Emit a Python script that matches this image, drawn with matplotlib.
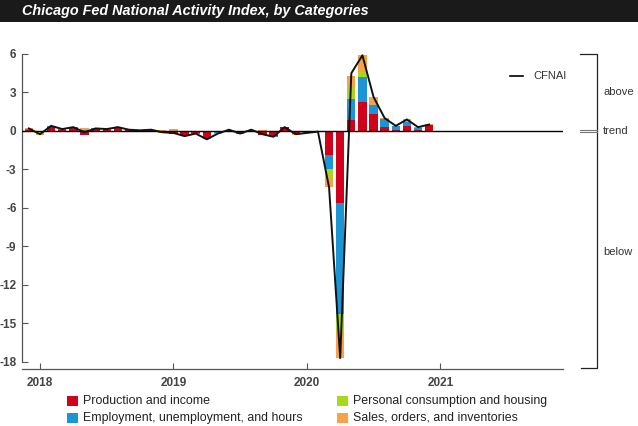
import numpy as np
import matplotlib
matplotlib.use("Agg")
import matplotlib.pyplot as plt
from matplotlib.patches import Rectangle

plt.rcParams['font.family'] = ['Liberation Sans', 'DejaVu Sans']
plt.rcParams['axes.unicode_minus'] = False

# Monthly data, Dec 2017 .. Dec 2020
start_year, start_month = 2017, 12
cfnai = [0.2, -0.25, 0.4, 0.15, 0.3, -0.1, 0.2, 0.15, 0.3, 0.1, 0.05, 0.1,
         -0.1, -0.15, -0.4, -0.2, -0.65, -0.2, 0.1, -0.2, 0.1, -0.25, -0.45, 0.3,
         -0.25, -0.15, -0.05, -4.4, -17.7, 4.5, 5.9, 2.65, 1.0, 0.4, 0.9, 0.3, 0.5]
production = [0.1, -0.05, 0.3, 0.1, 0.25, -0.35, 0.15, 0.1, 0.25, 0.05, 0.0, 0.05,
              -0.05, -0.25, -0.3, -0.15, -0.55, -0.1, 0.05, -0.15, 0.1, -0.3, -0.4, 0.3,
              -0.15, -0.1, 0.0, -1.9, -5.6, 0.85, 2.25, 1.3, 0.3, 0.05, 0.35, 0.05, 0.45]
employment = [0.05, -0.05, 0.1, 0.05, 0.05, 0.1, 0.05, 0.05, 0.05, 0.05, 0.05, 0.05,
              0.0, 0.0, -0.05, -0.05, -0.05, -0.05, 0.05, -0.05, 0.0, 0.0, -0.05, 0.0,
              -0.05, -0.05, 0.0, -1.1, -8.7, 1.65, 1.95, 0.7, 0.65, 0.3, 0.35, 0.2, 0.0]
consumption = [0.0, -0.05, 0.0, 0.0, 0.0, 0.05, 0.0, 0.0, 0.0, 0.0, 0.0, 0.0,
               -0.1, 0.0, -0.05, 0.0, 0.0, -0.05, 0.0, 0.0, 0.0, 0.0, 0.0, 0.0,
               -0.05, 0.0, -0.05, -0.7, -1.4, 0.9, 0.4, 0.05, 0.0, 0.05, 0.0, 0.0, 0.0]
sales = [0.05, -0.15, 0.0, 0.0, 0.0, 0.1, 0.0, 0.0, 0.0, 0.05, 0.0, 0.0,
         0.05, 0.15, 0.0, 0.0, -0.05, -0.05, 0.0, 0.0, 0.0, 0.05, 0.0, 0.0,
         -0.05, 0.0, 0.0, -0.7, -2.0, 0.85, 1.3, 0.6, 0.05, 0.0, 0.2, 0.05, 0.1]

labels = ['Production and income', 'Employment, unemployment, and hours',
          'Personal consumption and housing', 'Sales, orders, and inventories']
colors = ['#d0021b', '#1b95d6', '#a9d81a', '#f7a148']
year_ticks = [2018, 2019, 2020, 2021]
y_ticks = [6, 3, 0, -3, -6, -9, -12, -15, -18]

n = len(cfnai)
x = start_year + (start_month - 1) / 12 + np.arange(n) / 12

W, H = 638, 426
fig = plt.figure(figsize=(W / 100, H / 100), dpi=100)

# title band
fig.patches.append(Rectangle((0, 1 - 22 / H), 1, 22 / H, transform=fig.transFigure,
                             facecolor='#1a1a1a', edgecolor='none'))
fig.text(22 / W, 1 - 11 / H, 'Chicago Fed National Activity Index, by Categories',
         color='white', fontsize=10.4, fontweight='bold', fontstyle='italic',
         va='center', ha='left')

ax_l, ax_r = 22, 563
ax = fig.add_axes([ax_l / W, 1 - 369 / H, (ax_r - ax_l) / W, 315 / H])


def px(p):
    # pixel column -> axes fraction
    return (p - ax_l) / (ax_r - ax_l)


pos_bottom = np.zeros(n)
neg_bottom = np.zeros(n)
for vals, c in zip([production, employment, consumption, sales], colors):
    v = np.array(vals)
    bottom = np.where(v >= 0, pos_bottom, neg_bottom)
    ax.bar(x, v, width=0.75 / 12, bottom=bottom, color=c, edgecolor='none', zorder=2)
    pos_bottom = pos_bottom + np.where(v > 0, v, 0)
    neg_bottom = neg_bottom + np.where(v < 0, v, 0)

ax.axhline(0, color='black', lw=1.0, zorder=3)
ax.plot(x, cfnai, color='#111111', lw=1.4, zorder=4)

ax.set_xlim(2017.865, 2021.92)
ax.set_ylim(-18.55, 6)
ax.set_xticks(year_ticks)
ax.set_xticklabels([str(y) for y in year_ticks])
ax.set_yticks(y_ticks)
for s in ['top', 'right']:
    ax.spines[s].set_visible(False)
for s in ['left', 'bottom']:
    ax.spines[s].set_color('#555555')
    ax.spines[s].set_linewidth(0.9)
ax.spines['left'].set_bounds(-18, 6)
ax.tick_params(direction='in', length=4, width=0.8, color='#555555',
               labelsize=8.5, labelcolor='#444444')
ax.tick_params(axis='x', pad=6)
ax.tick_params(axis='y', pad=4)
for t in ax.get_xticklabels() + ax.get_yticklabels():
    t.set_fontweight('bold')

tr = ax.get_yaxis_transform()

# CFNAI legend
ax.plot([px(510), px(523)], [4.3, 4.3], color='black', lw=1.2, transform=tr)
ax.text(px(533), 4.3, 'CFNAI', transform=tr, fontsize=8, color='#333333', va='center')

# bracket at right
xb = px(597)
ax.plot([px(580), xb, xb, px(581)], [6, 6, -18.45, -18.45], color='#222222', lw=0.9,
        transform=tr, clip_on=False)
ax.plot([px(580), xb], [0.09, 0.09], color='#777777', lw=0.8, transform=tr, clip_on=False)
ax.plot([px(580), xb], [-0.09, -0.09], color='#777777', lw=0.8, transform=tr, clip_on=False)
for txt, yv in [('above', 3.0), ('trend', 0), ('below', -9.4)]:
    ax.text(px(603), yv, txt, transform=tr, fontsize=8, color='#333333',
            va='center', ha='left', clip_on=False)

# bottom legend
rows = [401, 418]
cols = [(67, 83), (337, 353)]
order = [(0, 0, 0), (1, 0, 1), (2, 1, 0), (3, 1, 1)]
for i, ci, ri in order:
    sx, tx = cols[ci]
    yy = rows[ri]
    fig.patches.append(Rectangle((sx / W, 1 - (yy + 5) / H), 11 / W, 10 / H,
                                 transform=fig.transFigure, facecolor=colors[i],
                                 edgecolor='none'))
    fig.text(tx / W, 1 - yy / H, labels[i], fontsize=8.9, color='#222222',
             va='center', ha='left')

fig.savefig('out.png', dpi=100)
